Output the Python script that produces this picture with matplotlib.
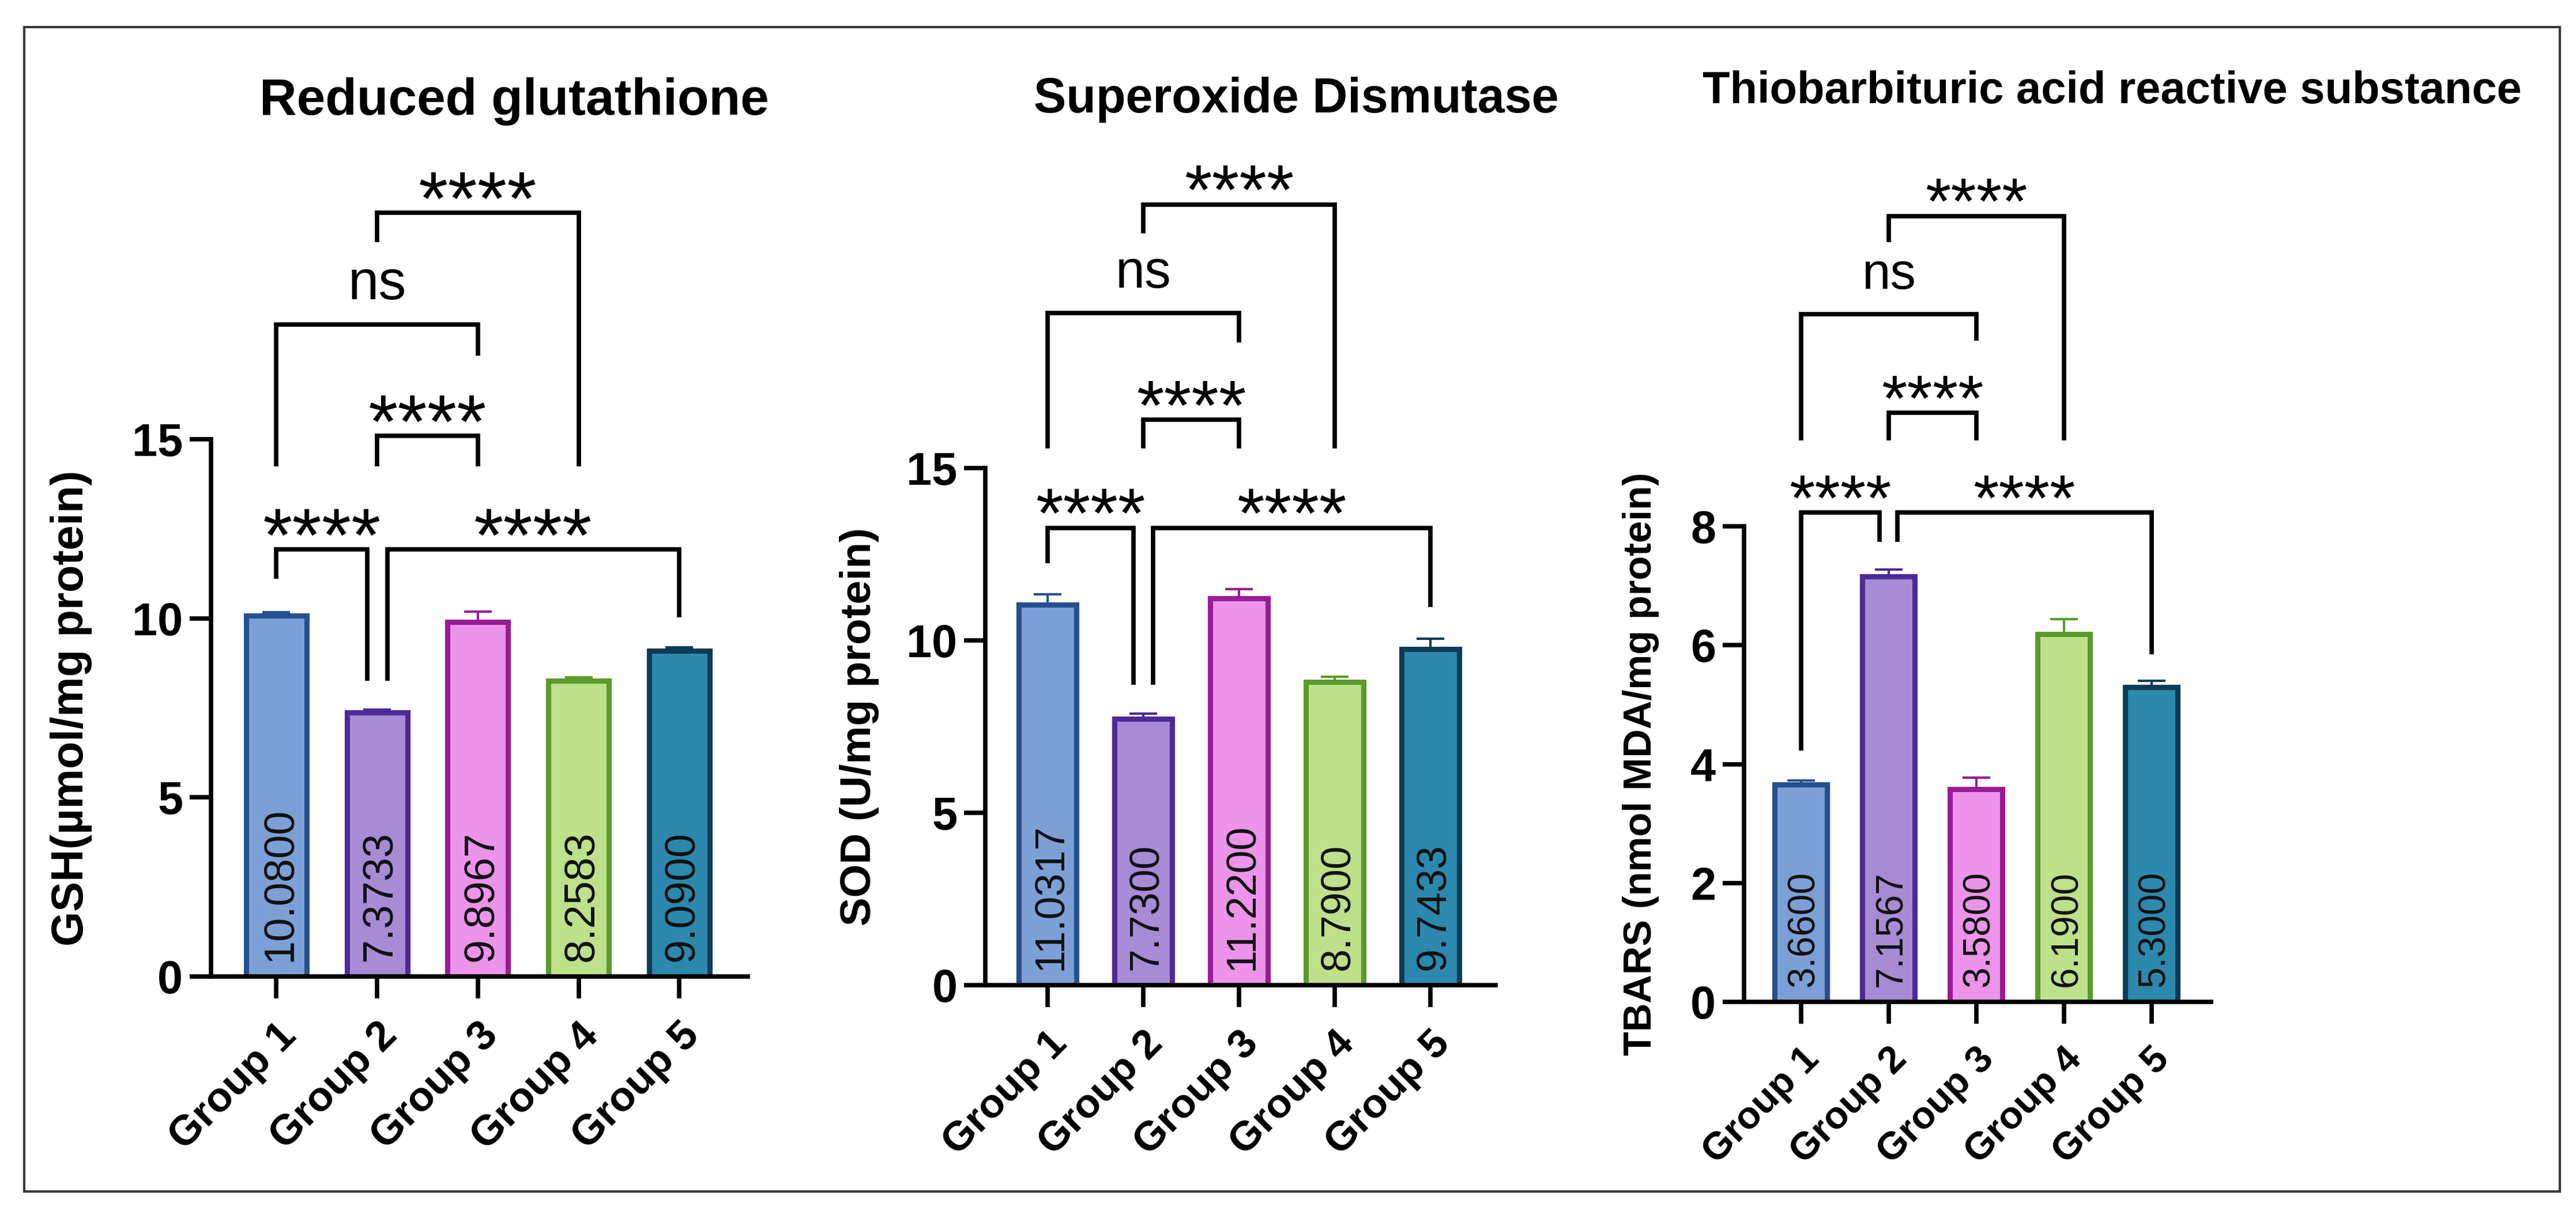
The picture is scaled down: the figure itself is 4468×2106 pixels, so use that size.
import matplotlib
matplotlib.use('Agg')
import matplotlib.pyplot as plt
from matplotlib import font_manager as fm
from matplotlib.patches import Rectangle


def pick(*names):
    for n in names:
        try:
            fm.findfont(fm.FontProperties(family=n), fallback_to_default=False)
            return n
        except Exception:
            pass
    return 'DejaVu Sans'


MAIN = pick('Liberation Sans', 'Arial', 'DejaVu Sans')
NARROW = pick('Liberation Sans Narrow', 'Arial Narrow', 'Liberation Sans')

# ---------------- data ----------------
groups = ['Group 1', 'Group 2', 'Group 3', 'Group 4', 'Group 5']

gsh_mean = [10.0800, 7.3733, 9.8967, 8.2583, 9.0900]
gsh_sem = [0.10, 0.08, 0.30, 0.10, 0.10]

sod_mean = [11.0317, 7.7300, 11.2200, 8.7900, 9.7433]
sod_sem = [0.30, 0.15, 0.27, 0.15, 0.30]

tbars_mean = [3.6600, 7.1567, 3.5800, 6.1900, 5.3000]
tbars_sem = [0.06, 0.12, 0.19, 0.25, 0.10]

titles = ['Reduced glutathione', 'Superoxide Dismutase',
          'Thiobarbituric acid reactive substance']
ylabels = ['GSH(µmol/mg protein)', 'SOD (U/mg protein)',
           'TBARS (nmol MDA/mg protein)']
yticks = [[0, 5, 10, 15], [0, 5, 10, 15], [0, 2, 4, 6, 8]]
ymax = [15, 15, 8]

# significance brackets: (x_left, x_right, bar level, left leg end, right leg end, label)
brackets_gsh = [
    (0.0, 0.9, 11.93, 11.10, 8.26, '****'),
    (1.1, 4.0, 11.93, 8.26, 10.03, '****'),
    (1.0, 2.0, 15.10, 14.24, 14.24, '****'),
    (0.0, 2.0, 18.20, 14.24, 17.33, 'ns'),
    (1.0, 3.0, 21.33, 20.50, 14.24, '****'),
]
brackets_sod = [
    (0.0, 0.9, 13.26, 12.25, 8.72, '****'),
    (1.1, 4.0, 13.26, 8.72, 10.97, '****'),
    (1.0, 2.0, 16.40, 15.57, 15.57, '****'),
    (0.0, 2.0, 19.50, 15.57, 18.65, 'ns'),
    (1.0, 3.0, 22.65, 21.80, 15.57, '****'),
]
brackets_tbars = [
    (0.0, 0.9, 8.23, 4.23, 7.74, '****'),
    (1.1, 4.0, 8.23, 7.74, 5.85, '****'),
    (1.0, 2.0, 9.91, 9.45, 9.45, '****'),
    (0.0, 2.0, 11.57, 9.45, 11.12, 'ns'),
    (1.0, 3.0, 13.22, 12.78, 9.45, '****'),
]

means = [gsh_mean, sod_mean, tbars_mean]
sems = [gsh_sem, sod_sem, tbars_sem]
brackets = [brackets_gsh, brackets_sod, brackets_tbars]

fill_colors = ['#7CA0D6', '#A78BD5', '#EB94EA', '#BDE08A', '#2C89AD']
edge_colors = ['#25508F', '#4E2A98', '#9B1A96', '#5A9B2B', '#0E3B56']

# ---------------- layout ----------------
W, H, DPI = 4468, 2106, 100
fig = plt.figure(figsize=(W / DPI, H / DPI), dpi=DPI)
fig.patch.set_facecolor('white')

rects = [(0.0819, 0.1956, 0.2084, 0.4425),
         (0.3825, 0.1885, 0.1981, 0.4259),
         (0.6770, 0.1747, 0.1813, 0.3917)]
ylabel_x = [-0.221, -0.208, -0.181]
title_x = [892, 2248, 3663]
title_y = [0.9055, 0.9074, 0.9150]
title_w = [885, 912, 1423]
ylabel_len = [826, 691, 1013]
vlabel_len = [268, 255, 201]
xtl_w = [245, 240, 225]
star_fs = [95, 88, 82]
ns_fs = [69, 66, 64]

LW = 5.5
axes = []
title_texts = []
vlabel_texts = []
for k in range(3):
    ax = fig.add_axes(rects[k])
    axes.append(ax)
    x = list(range(len(groups)))
    for i in x:
        ax.errorbar(i, means[k][i], yerr=[[0], [sems[k][i]]], fmt='none',
                    ecolor=edge_colors[i], elinewidth=3, capsize=17,
                    capthick=3, zorder=1)
    ax.bar(x, means[k], width=0.6, color=fill_colors, edgecolor=edge_colors,
           linewidth=6.5, zorder=2)
    ax.set_xlim(-0.65, 4.68)
    ax.set_ylim(0, ymax[k])
    ax.set_yticks(yticks[k])
    ax.set_xticks(x)
    ax.set_xticklabels(groups, rotation=45, ha='right', va='top',
                       rotation_mode='anchor', fontweight='bold',
                       family=MAIN, fontsize=44)
    for t in ax.get_yticklabels():
        t.set_fontweight('bold')
        t.set_family(NARROW)
        t.set_fontsize(57)
    ax.tick_params(axis='both', length=27, width=LW, direction='out',
                   color='black')
    ax.tick_params(axis='y', pad=8)
    ax.tick_params(axis='x', pad=22)
    for s in ['top', 'right']:
        ax.spines[s].set_visible(False)
    for s in ['left', 'bottom']:
        ax.spines[s].set_linewidth(LW)
    ax.set_ylabel(ylabels[k], fontweight='bold', family=NARROW, fontsize=60)
    ax.yaxis.set_label_coords(ylabel_x[k], 0.5)

    vts = []
    for i in x:
        t = ax.annotate(f'{means[k][i]:.4f}', (i, 0), xytext=(4, 19),
                        textcoords='offset points', rotation=90,
                        ha='center', va='bottom', family=NARROW,
                        fontsize=60, color='#111111', zorder=3)
        vts.append(t)
    vlabel_texts.append(vts)

    for (xa, xb, yh, ya, yb, lab) in brackets[k]:
        ax.plot([xa, xa, xb, xb], [ya, yh, yh, yb], color='black', lw=LW,
                clip_on=False, solid_joinstyle='miter',
                solid_capstyle='butt', zorder=4)
        if lab == 'ns':
            ax.annotate(lab, ((xa + xb) / 2, yh), xytext=(0, 32),
                        textcoords='offset points', ha='center',
                        va='baseline', family=NARROW, fontsize=ns_fs[k],
                        annotation_clip=False)
        else:
            off = 27 - 0.44 * star_fs[k]
            ax.annotate(lab, ((xa + xb) / 2, yh), xytext=(0, off),
                        textcoords='offset points', ha='center',
                        va='baseline', family=MAIN, fontsize=star_fs[k],
                        annotation_clip=False)

    tt = fig.text(title_x[k] / W, title_y[k], titles[k], ha='center',
                  va='baseline', fontweight='bold', family=MAIN, fontsize=60)
    title_texts.append(tt)

# fit text sizes to measured lengths
fig.canvas.draw()
r = fig.canvas.get_renderer()
for k in range(3):
    ax = axes[k]
    t = title_texts[k]
    t.set_fontsize(t.get_fontsize() * title_w[k] / t.get_window_extent(r).width)
    yl = ax.yaxis.label
    yl.set_fontsize(yl.get_fontsize() * ylabel_len[k] / yl.get_window_extent(r).height)
    v0 = vlabel_texts[k][0]
    s = v0.get_fontsize() * vlabel_len[k] / v0.get_window_extent(r).height
    for t in vlabel_texts[k]:
        t.set_fontsize(s)
    xt0 = ax.get_xticklabels()[0]
    s = xt0.get_fontsize() * xtl_w[k] / xt0.get_window_extent(r).width
    for t in ax.get_xticklabels():
        t.set_fontsize(s)

# outer frame
fig.add_artist(Rectangle((42 / W, 1 - 2067 / H), (4440 - 42) / W,
                         (2067 - 47) / H, transform=fig.transFigure,
                         fill=False, edgecolor='#3a3a3a', linewidth=3))

fig.savefig('out.png', dpi=DPI, facecolor='white')
